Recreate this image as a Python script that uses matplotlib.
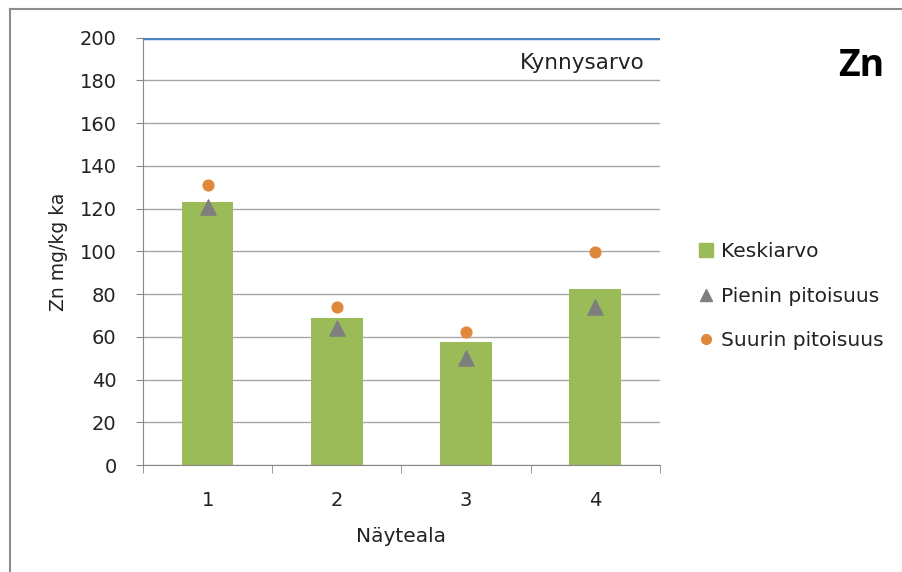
import matplotlib.pyplot as plt
from matplotlib.lines import Line2D
from matplotlib.patches import Rectangle
import numpy as np

plt.rcParams['font.family'] = ['DejaVu Sans']

categories = ["1", "2", "3", "4"]
keskiarvo = [123, 69, 57.5, 82.5]
pienin = [121, 64, 50, 74]
suurin = [131, 74, 62.5, 99.5]
kynnysarvo = 200

fig = plt.figure(figsize=(9.02, 5.72), dpi=100)
ax = fig.add_axes([0.1585, 0.187, 0.573, 0.747])

x = np.arange(len(categories))
ax.bar(x, keskiarvo, width=0.4, color="#9BBB59", zorder=2, label="Keskiarvo")
ax.scatter(x, pienin, marker="^", s=120, color="#7F7F7F", zorder=3, label="Pienin pitoisuus")
ax.scatter(x, suurin, marker="o", s=60, color="#E0883A", zorder=3, label="Suurin pitoisuus")
ax.plot([-0.5, len(categories) - 0.5], [kynnysarvo, kynnysarvo], color="#4F81BD", lw=2.5, zorder=4)
ax.text(3.38, 188, "Kynnysarvo", ha="right", va="center", fontsize=15.5, color="#222222")

ax.set_xlim(-0.5, len(categories) - 0.5)
ax.set_ylim(0, 200)
ax.set_yticks(range(0, 201, 20))
ax.set_xticks(x)
ax.set_xticklabels(categories)
ax.set_xticks(np.arange(-0.5, len(categories)), minor=True)
ax.tick_params(axis="x", which="major", length=0, labelsize=14, pad=19, labelcolor="#222222")
ax.tick_params(axis="x", which="minor", length=6, color="#888888")
ax.tick_params(axis="y", length=5, color="#888888", labelsize=14, pad=14, labelcolor="#222222")
ax.grid(axis="y", color="#A6A6A6", lw=1, zorder=0)
for s in ["top", "right"]:
    ax.spines[s].set_visible(False)
ax.spines["left"].set_color("#888888")
ax.spines["bottom"].set_color("#888888")

ax.set_xlabel("Näyteala", fontsize=14.5, labelpad=12, color="#222222")
ax.set_ylabel("Zn mg/kg ka", fontsize=13.5, labelpad=8, color="#222222")

fig.text(0.98, 0.885, "Zn", ha="right", va="center", fontsize=27, fontweight="bold",
         family="Open Sans")

handles = [
    Rectangle((0, 0), 1, 1, color="#9BBB59"),
    Line2D([], [], marker="^", ls="", color="#7F7F7F", markersize=9),
    Line2D([], [], marker="o", ls="", color="#E0883A", markersize=7),
]
fig.legend(handles, ["Keskiarvo", "Pienin pitoisuus", "Suurin pitoisuus"],
           loc="center left", bbox_to_anchor=(0.755, 0.482), frameon=False,
           fontsize=14.5, handlelength=0.7, handletextpad=0.4, labelspacing=1.27,
           labelcolor="#222222")

# chart frame (left and top edges only)
fig.add_artist(Line2D([0.011, 0.011], [0.0, 0.985], transform=fig.transFigure,
                      color="#8C8C8C", lw=1.5))
fig.add_artist(Line2D([0.011, 1.0], [0.985, 0.985], transform=fig.transFigure,
                      color="#8C8C8C", lw=1.5))

fig.savefig("out.png", dpi=100)
